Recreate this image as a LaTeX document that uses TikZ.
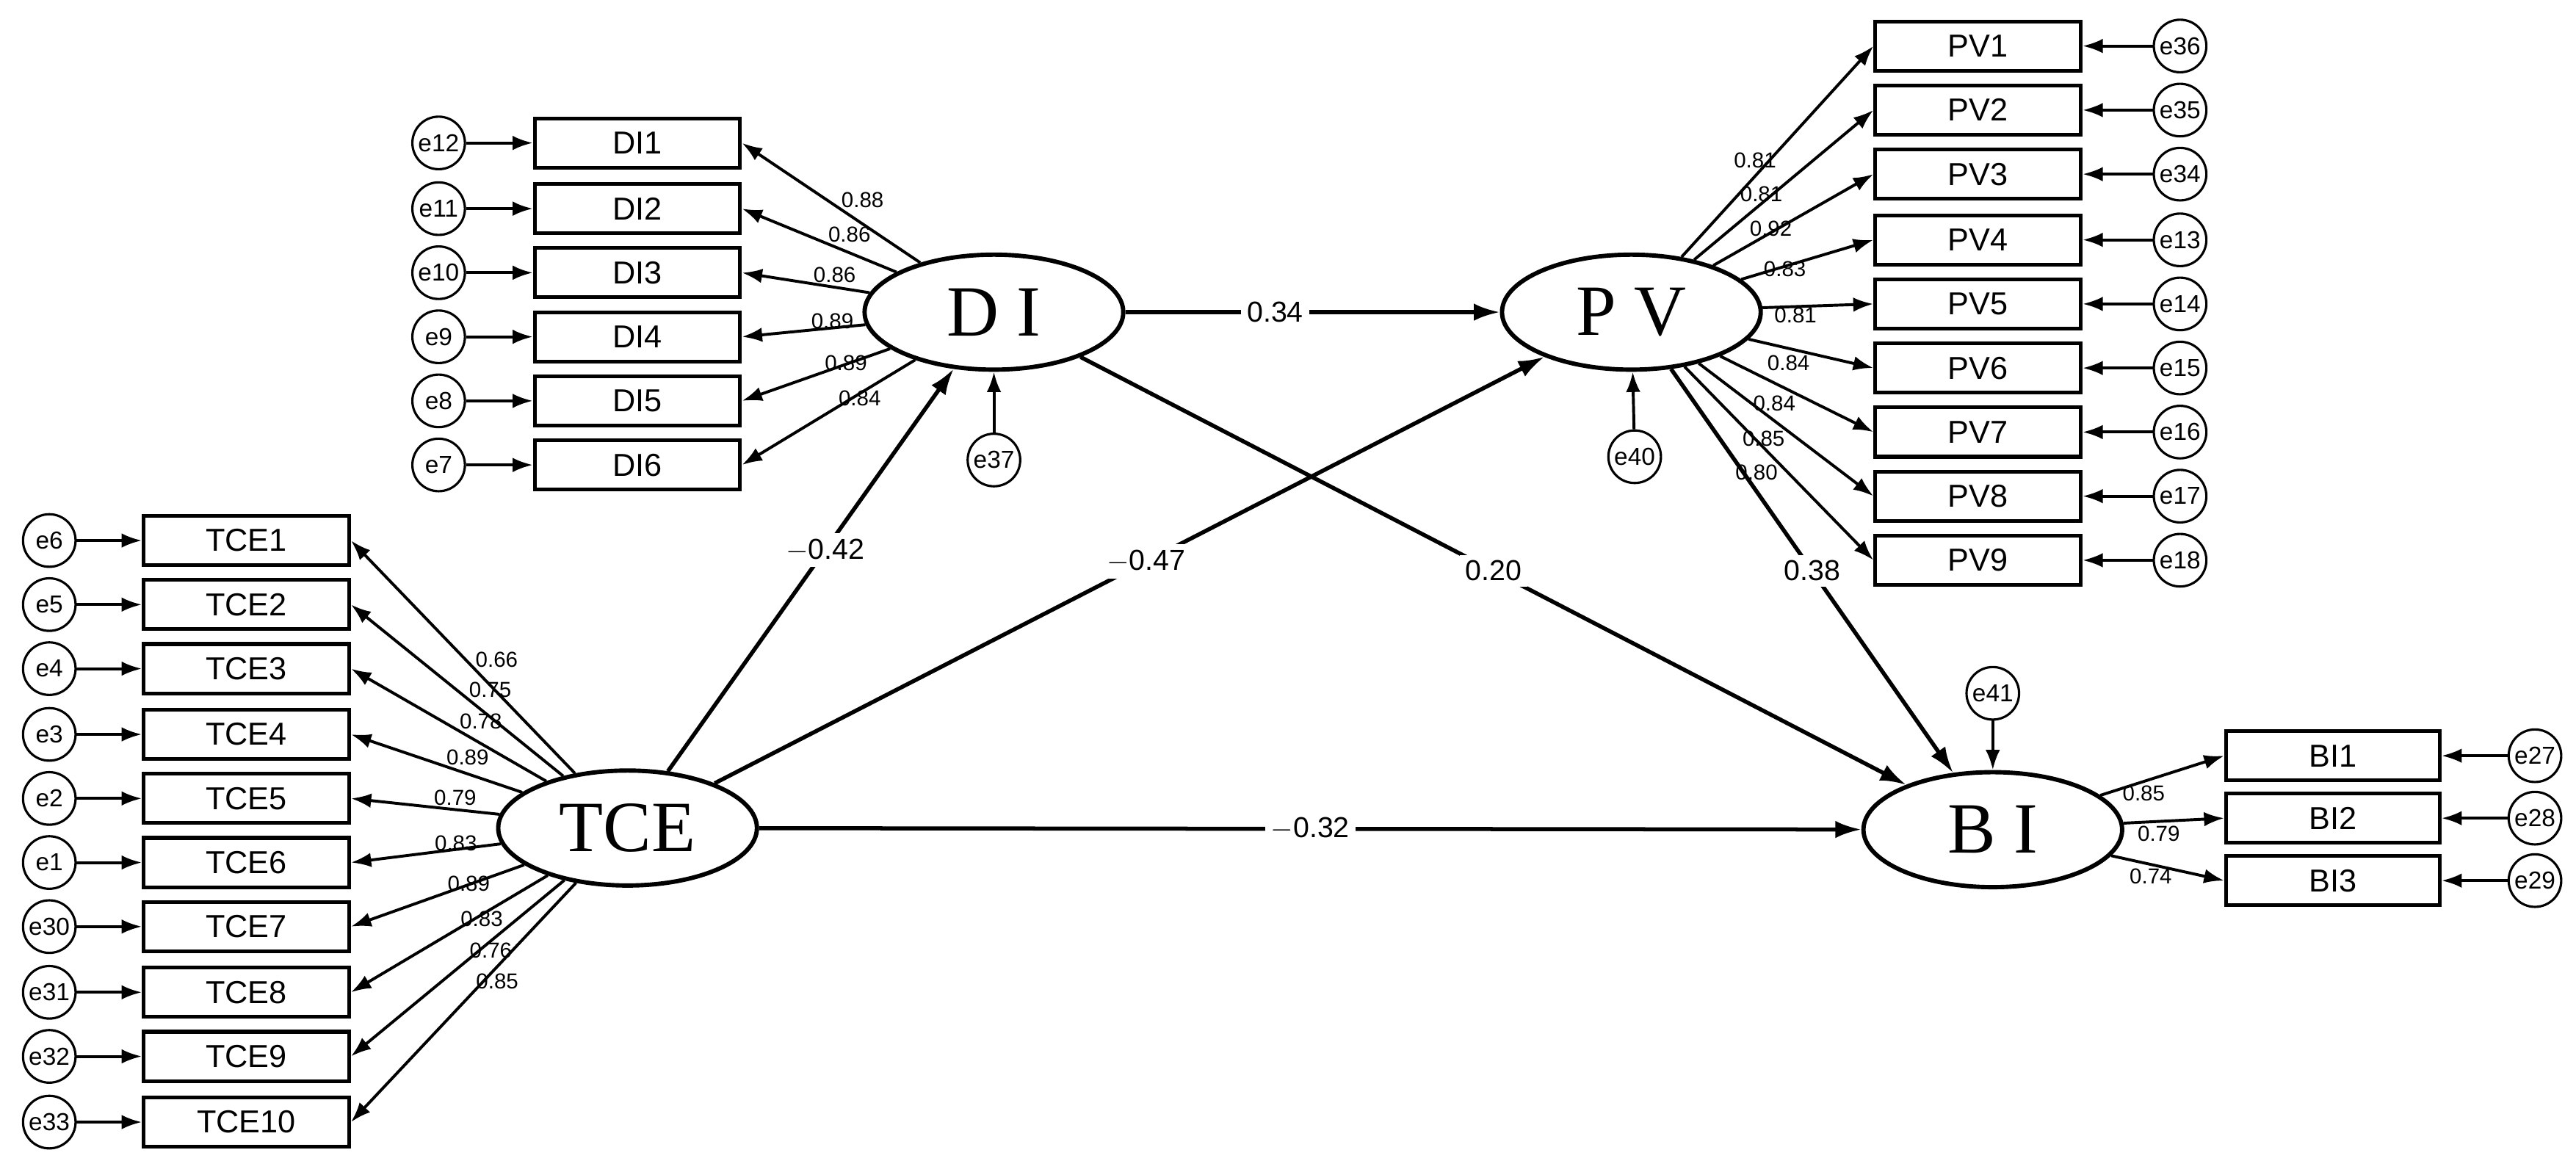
\documentclass[tikz,border=0pt]{standalone}
\usepackage{fontspec}
\setmainfont{Liberation Sans}
\newfontfamily\lat{Liberation Serif}
\usetikzlibrary{arrows.meta,shapes.geometric}
\begin{document}
\begin{tikzpicture}[x=0.02cm,y=-0.02cm,
 box/.style={draw,line width=1.3pt,minimum width=2.5cm,minimum height=0.6cm,inner sep=0pt,font=\fontsize{11}{11}\selectfont},
 lv/.style={draw,ellipse,line width=1.5pt,minimum width=3.15cm,minimum height=1.4cm,inner sep=0pt,font=\lat\fontsize{25}{25}\selectfont},
 err/.style={draw,circle,line width=0.8pt,minimum size=0.64cm,inner sep=0pt,font=\fontsize{8.5}{8.5}\selectfont},
 arr/.style={-{Latex[length=7pt,width=5pt]},line width=1pt},
 sarr/.style={-{Latex[length=9pt,width=6pt]},line width=1.4pt},
 ld/.style={font=\fontsize{7.5}{7.5}\selectfont,inner sep=1pt},
 pl/.style={fill=white,font=\fontsize{10}{10}\selectfont,inner sep=2pt}]
\useasboundingbox (0,0) rectangle (1568,713);
% latent
\node[lv] (di) at (605,190) {D I};
\node[lv] (pv) at (993,190) {P V};
\node[lv] (tce) at (382,504) {TCE};
\node[lv] (bi) at (1213,505) {B I};
\node[err] (e37) at (605,280) {e37};
\node[err] (e40) at (995,278) {e40};
\node[err] (e41) at (1213,422) {e41};
\draw[arr] (e37) -- (di);
\draw[arr] (e40) -- (pv);
\draw[arr] (e41) -- (bi);
% DI
\foreach \i/\y/\e/\l in {1/87/12/0.88,2/127/11/0.86,3/166/10/0.86,4/205/9/0.89,5/244/8/0.89,6/283/7/0.84}{
 \node[box] (DI\i) at (388,\y) {DI\i};
 \node[err] (e\e) at (267,\y) {e\e};
 \draw[arr] (e\e) -- (DI\i);
 \draw[arr] (di) -- (DI\i.east) node[ld,pos=0.45,above right=-1pt] {\l};
}
% PV
\foreach \i/\y/\e/\l in {1/28/36/0.81,2/67/35/0.81,3/106/34/0.92,4/146/13/0.83,5/185/14/0.81,6/224/15/0.84,7/263/16/0.84,8/302/17/0.85,9/341/18/0.80}{
 \node[box] (PV\i) at (1204,\y) {PV\i};
 \node[err] (e\e) at (1327,\y) {e\e};
 \draw[arr] (e\e) -- (PV\i);
 \draw[arr] (pv) -- (PV\i.west) node[ld,pos=0.5,below left=-1pt] {\l};
}
% TCE
\foreach \i/\y/\e/\l in {1/329/6/0.66,2/368/5/0.75,3/407/4/0.78,4/447/3/0.89,5/486/2/0.79,6/525/1/0.83,7/564/30/0.89,8/604/31/0.83,9/643/32/0.76,10/683/33/0.85}{
 \node[box] (TCE\i) at (150,\y) {TCE\i};
 \node[err] (e\e) at (30,\y) {e\e};
 \draw[arr] (e\e) -- (TCE\i);
 \draw[arr] (tce) -- (TCE\i.east) node[ld,pos=0.45,above right=-1pt] {\l};
}
% BI
\foreach \i/\y/\e/\l in {1/460/27/0.85,2/498/28/0.79,3/536/29/0.74}{
 \node[box,minimum width=2.6cm] (BI\i) at (1420,\y) {BI\i};
 \node[err] (e\e) at (1543,\y) {e\e};
 \draw[arr] (e\e) -- (BI\i);
 \draw[arr] (bi) -- (BI\i.west) node[ld,pos=0.35,below=0pt] {\l};
}
% structural
\draw[sarr] (di) -- (pv) node[pl,pos=0.4] {0.34};
\draw[sarr] (tce) -- (di) node[pl,pos=0.55] {$-$0.42};
\draw[sarr] (tce) -- (pv) node[pl,pos=0.52] {$-$0.47};
\draw[sarr] (di) -- (bi) node[pl,pos=0.5] {0.20};
\draw[sarr] (pv) -- (bi) node[pl,pos=0.5] {0.38};
\draw[sarr] (tce) -- (bi) node[pl,pos=0.5] {$-$0.32};
\end{tikzpicture}
\end{document}
